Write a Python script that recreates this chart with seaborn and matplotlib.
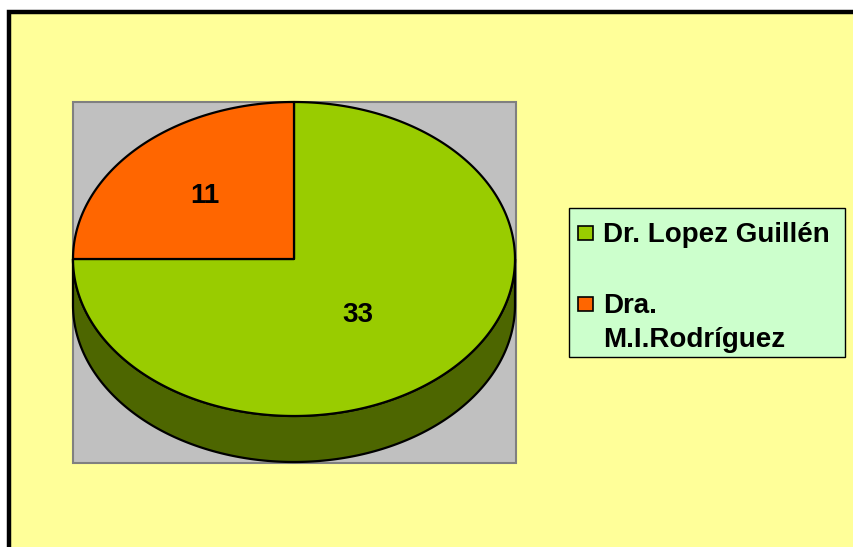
import matplotlib
matplotlib.use("Agg")
import matplotlib.pyplot as plt
import numpy as np
import seaborn as sns
from matplotlib.patches import Polygon, Rectangle

sns.set_theme(style="white")
plt.rcParams['font.family'] = ['Liberation Sans', 'DejaVu Sans']

# Data
labels = ["Dr. Lopez Guillén", "Dra.\nM.I.Rodríguez"]
values = [33, 11]
colors = sns.color_palette(["#99CC00", "#FF6600"])

# label placement inside the slices (fraction of radius, angle nudge)
label_r = [0.46, 0.57]
label_nudge = [-6, 0]

fig = plt.figure(figsize=(8.54, 5.47), dpi=100)
ax = fig.add_axes([0, 0, 1, 1])
ax.set_xlim(0, 854)
ax.set_ylim(547, 0)
ax.axis('off')

# chart area + plot area
ax.add_patch(Rectangle((9, 12), 900, 600, fc="#FFFF99", ec="black", lw=3.2))
ax.add_patch(Rectangle((73, 102), 443, 361, fc="#C0C0C0", ec="#808080", lw=1.5))

# 3D pie geometry
cx, cy = 294, 259
rx, ry = 221, 157
depth = 46
start = 180


def ell(t, dy=0):
  r = np.radians(t)
  return np.column_stack([cx + rx * np.cos(r), cy - ry * np.sin(r) + dy])


total = sum(values)
bounds = np.cumsum([0] + values) / total * 360 + start

# side walls (front half only)
for i in range(len(values)):
  a0, a1 = bounds[i], bounds[i + 1]
  shift = 360 * np.floor(a0 / 360)
  lo, hi = max(a0 - shift, 180), min(a1 - shift, 360)
  if hi <= lo:
    continue
  t = np.linspace(lo, hi, 300)
  wall = np.vstack([ell(t), ell(t[::-1], depth)])
  dark = tuple(c * 0.5 for c in colors[i])
  ax.add_patch(Polygon(wall, closed=True, fc=dark, ec="black", lw=1.6,
                       joinstyle="round"))

# top faces
for i in range(len(values)):
  a0, a1 = bounds[i], bounds[i + 1]
  t = np.linspace(a0, a1, 300)
  pts = np.vstack([[cx, cy], ell(t)])
  ax.add_patch(Polygon(pts, closed=True, fc=colors[i], ec="black", lw=1.6,
                       joinstyle="round"))
  mid = (a0 + a1) / 2 + label_nudge[i]
  r = np.radians(mid)
  ax.text(cx + rx * label_r[i] * np.cos(r), cy - ry * label_r[i] * np.sin(r),
          str(values[i]), ha="center", va="center", fontsize=20,
          fontweight="bold", color="black")

# legend
ax.add_patch(Rectangle((569, 208), 276, 149, fc="#CCFFCC", ec="black", lw=1))
base = 242
for i, lab in enumerate(labels):
  ax.add_patch(Rectangle((578, base - 16), 15, 14, fc=colors[i], ec="black",
                         lw=1.2))
  for line in lab.split("\n"):
    ax.text(603, base, line, ha="left", va="baseline", fontsize=20,
            fontweight="bold", color="black")
    base += 34
  base += 37

fig.savefig("out.png", dpi=100)
